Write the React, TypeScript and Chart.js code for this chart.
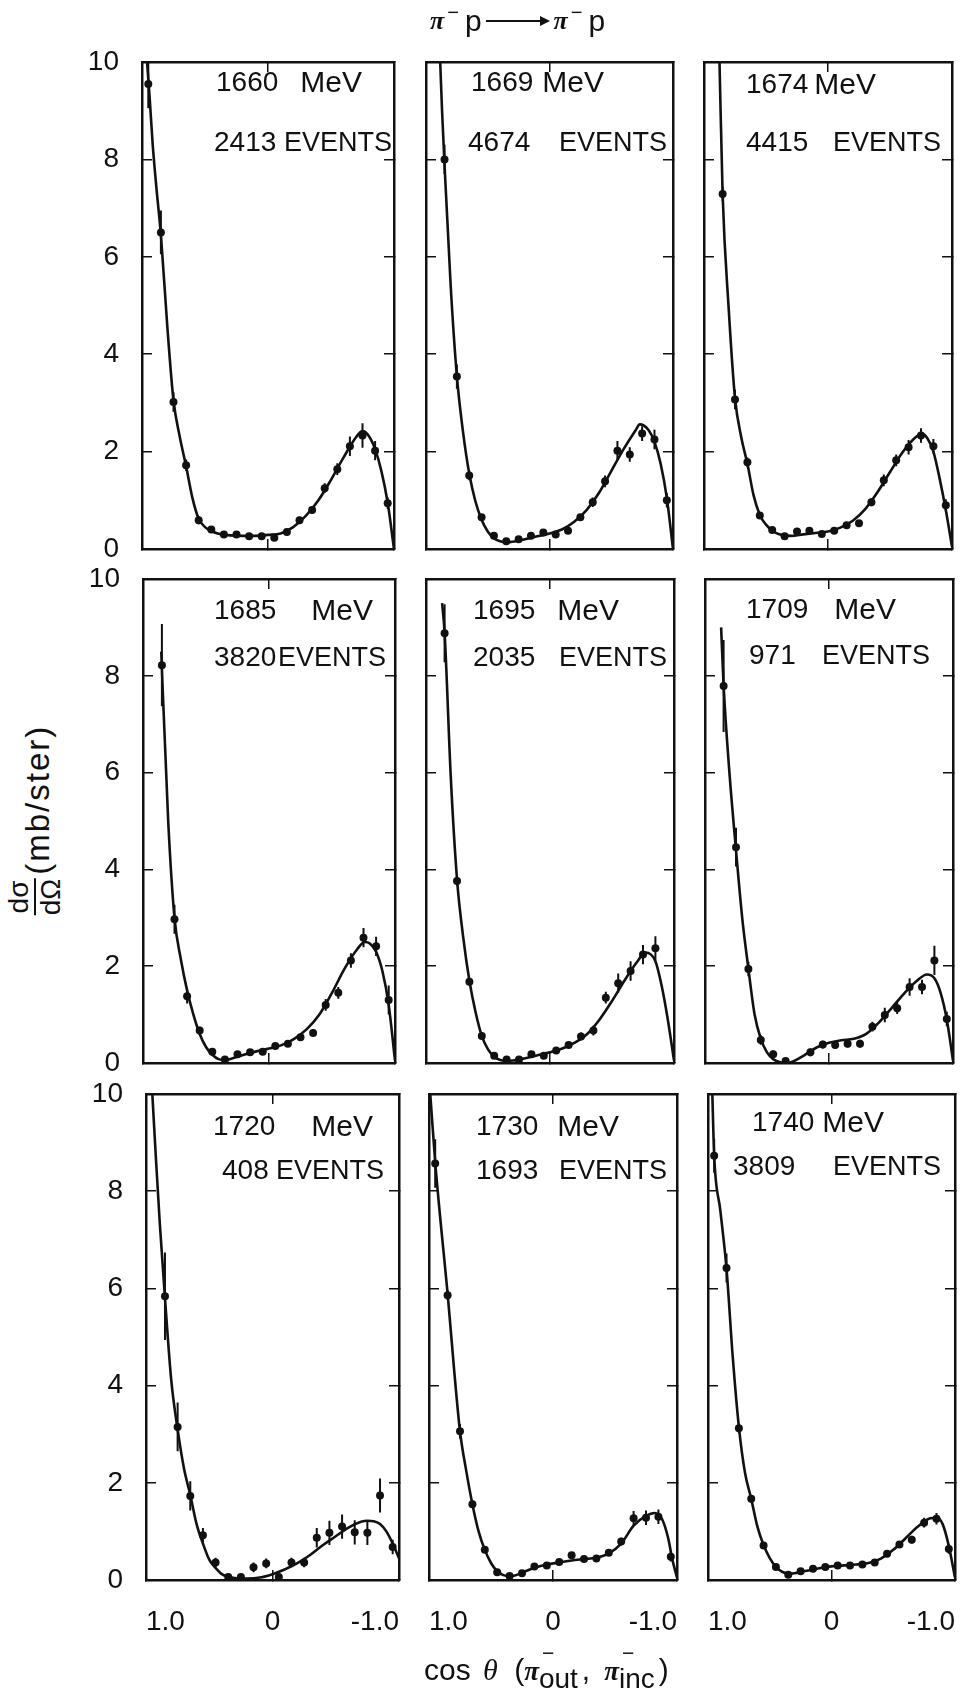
import React, { useEffect, useRef } from "react";
import { Chart, registerables } from "chart.js";

Chart.register(...registerables);

// ---------------- data ----------------
const COS_BINS = [0.95, 0.85, 0.75, 0.65, 0.55, 0.45, 0.35, 0.25, 0.15, 0.05, -0.05, -0.15, -0.25, -0.35, -0.45, -0.55, -0.65, -0.75, -0.85, -0.95];

const X_TICK_VALUES = [-1, 0, 1];
const X_TICK_LABELS = ["-1.0", "0", "1.0"];
const Y_TICK_VALUES = [0, 2, 4, 6, 8, 10];
const Y_TICK_LABELS = ["0", "2", "4", "6", "8", "10"];

const ENERGY_VALUES = ["1660", "1669", "1674", "1685", "1695", "1709", "1720", "1730", "1740"];
const ENERGY_UNIT = "MeV";
const EVENT_COUNTS = ["2413", "4674", "4415", "3820", "2035", "971", "408", "1693", "3809"];
const EVENT_WORD = "EVENTS";

// 1660 MeV
const Y_1660 = [9.55, 6.5, 3.02, 1.72, 0.59, 0.4, 0.3, 0.3, 0.26, 0.26, 0.23, 0.35, 0.59, 0.8, 1.25, 1.64, 2.11, 2.33, 2.02, 0.94];
const ERR_1660 = [0.5, 0.45, 0.2, 0.12, 0.08, 0.06, 0.05, 0.05, 0.05, 0.05, 0.05, 0.06, 0.07, 0.08, 0.1, 0.12, 0.2, 0.25, 0.2, 0.12];
const FIT_X_1660 = [0.96, 0.94, 0.915, 0.885, 0.85, 0.8, 0.75, 0.7, 0.65, 0.6, 0.55, 0.5, 0.45, 0.4, 0.3, 0.2, 0.1, 0.0, -0.1, -0.2, -0.3, -0.4, -0.5, -0.6, -0.7, -0.75, -0.8, -0.85, -0.9, -0.95, -1.0];
const FIT_Y_1660 = [10, 9.3, 8.3, 7.4, 6.45, 4.6, 3.05, 2.3, 1.7, 1.05, 0.62, 0.45, 0.37, 0.32, 0.28, 0.27, 0.27, 0.29, 0.32, 0.45, 0.68, 1.0, 1.42, 1.88, 2.3, 2.42, 2.32, 2.05, 1.6, 0.95, 0.0];

// 1669 MeV
const Y_1669 = [null, 8.0, 3.54, 1.51, 0.65, 0.27, 0.16, 0.2, 0.27, 0.34, 0.3, 0.375, 0.65, 0.96, 1.39, 2.02, 1.94, 2.37, 2.25, 1.0];
const ERR_1669 = [0, 0.3, 0.25, 0.1, 0.07, 0.05, 0.05, 0.05, 0.05, 0.05, 0.06, 0.06, 0.07, 0.1, 0.12, 0.2, 0.15, 0.15, 0.2, 0.15];
const FIT_X_1669 = [0.885, 0.87, 0.85, 0.8, 0.75, 0.7, 0.65, 0.6, 0.55, 0.5, 0.45, 0.4, 0.35, 0.3, 0.2, 0.1, 0.0, -0.1, -0.2, -0.3, -0.4, -0.5, -0.6, -0.7, -0.73, -0.8, -0.85, -0.9, -0.95, -1.0];
const FIT_Y_1669 = [10, 9.0, 7.9, 5.4, 3.55, 2.4, 1.55, 0.98, 0.6, 0.36, 0.22, 0.16, 0.14, 0.15, 0.2, 0.26, 0.32, 0.4, 0.56, 0.8, 1.15, 1.6, 2.05, 2.45, 2.56, 2.45, 2.2, 1.75, 1.05, 0.0];

// 1674 MeV
const Y_1674 = [null, 7.29, 3.07, 1.78, 0.69, 0.39, 0.26, 0.36, 0.375, 0.31, 0.375, 0.49, 0.53, 0.96, 1.41, 1.82, 2.09, 2.33, 2.11, 0.9];
const ERR_1674 = [0, 0.15, 0.2, 0.1, 0.07, 0.05, 0.05, 0.05, 0.05, 0.05, 0.05, 0.06, 0.06, 0.08, 0.12, 0.12, 0.15, 0.15, 0.15, 0.12];
const FIT_X_1674 = [0.875, 0.85, 0.8, 0.75, 0.7, 0.65, 0.6, 0.55, 0.5, 0.45, 0.4, 0.3, 0.2, 0.1, 0.0, -0.1, -0.2, -0.3, -0.4, -0.5, -0.6, -0.7, -0.76, -0.8, -0.85, -0.9, -0.95, -1.0];
const FIT_Y_1674 = [10, 7.3, 4.9, 3.1, 2.3, 1.75, 1.1, 0.7, 0.5, 0.38, 0.31, 0.27, 0.3, 0.33, 0.36, 0.44, 0.58, 0.82, 1.17, 1.58, 1.98, 2.28, 2.36, 2.28, 2.0, 1.45, 0.8, 0.05];

// 1685 MeV
const Y_1685 = [null, 8.22, 2.97, 1.38, 0.67, 0.23, 0.07, 0.18, 0.22, 0.23, 0.35, 0.4, 0.53, 0.62, 1.2, 1.45, 2.12, 2.59, 2.41, 1.3];
const ERR_1685 = [0, 0.85, 0.3, 0.15, 0.08, 0.06, 0.05, 0.05, 0.05, 0.05, 0.06, 0.06, 0.07, 0.08, 0.12, 0.12, 0.15, 0.2, 0.2, 0.3];
const FIT_X_1685 = [0.855, 0.85, 0.8, 0.75, 0.7, 0.65, 0.6, 0.55, 0.5, 0.45, 0.4, 0.35, 0.3, 0.2, 0.1, 0.0, -0.1, -0.2, -0.3, -0.4, -0.5, -0.6, -0.7, -0.76, -0.8, -0.85, -0.9, -0.95, -1.0];
const FIT_Y_1685 = [8.5, 8.15, 5.0, 3.0, 2.15, 1.5, 1.0, 0.6, 0.33, 0.17, 0.08, 0.06, 0.09, 0.17, 0.24, 0.3, 0.37, 0.5, 0.7, 1.0, 1.45, 1.95, 2.35, 2.5, 2.47, 2.3, 1.9, 1.2, 0.05];

// 1695 MeV
const Y_1695 = [null, 8.88, 3.76, 1.68, 0.56, 0.15, 0.07, 0.07, 0.18, 0.15, 0.26, 0.37, 0.55, 0.67, 1.35, 1.65, 1.9, 2.24, 2.37, null];
const ERR_1695 = [0, 0.6, 0.1, 0.08, 0.07, 0.05, 0.05, 0.05, 0.05, 0.06, 0.06, 0.06, 0.08, 0.1, 0.12, 0.2, 0.2, 0.2, 0.25, 0];
const FIT_X_1695 = [0.87, 0.85, 0.8, 0.75, 0.7, 0.65, 0.6, 0.55, 0.5, 0.45, 0.4, 0.35, 0.3, 0.2, 0.1, 0.0, -0.1, -0.2, -0.3, -0.4, -0.5, -0.6, -0.7, -0.77, -0.85, -0.9, -0.95, -1.0];
const FIT_Y_1695 = [9.5, 8.9, 5.9, 3.8, 2.6, 1.7, 1.05, 0.56, 0.28, 0.13, 0.06, 0.04, 0.05, 0.1, 0.16, 0.22, 0.3, 0.42, 0.6, 0.9, 1.28, 1.7, 2.08, 2.28, 2.1, 1.6, 0.9, 0.05];

// 1709 MeV
const Y_1709 = [null, 7.79, 4.46, 1.94, 0.475, 0.18, 0.04, null, 0.22, 0.38, 0.37, 0.4, 0.4, 0.75, 0.99, 1.13, 1.57, 1.57, 2.12, 0.91];
const ERR_1709 = [0, 0.95, 0.4, 0.15, 0.1, 0.08, 0.05, 0, 0.08, 0.08, 0.08, 0.08, 0.08, 0.1, 0.15, 0.12, 0.18, 0.15, 0.3, 0.15];
const FIT_X_1709 = [0.87, 0.85, 0.8, 0.75, 0.7, 0.65, 0.6, 0.55, 0.5, 0.45, 0.4, 0.35, 0.3, 0.2, 0.1, 0.0, -0.1, -0.2, -0.3, -0.4, -0.5, -0.6, -0.7, -0.79, -0.85, -0.9, -0.95, -1.0];
const FIT_Y_1709 = [9.0, 7.8, 5.9, 4.4, 3.0, 1.95, 1.0, 0.5, 0.22, 0.08, 0.02, 0.0, 0.02, 0.16, 0.32, 0.42, 0.47, 0.5, 0.6, 0.83, 1.12, 1.42, 1.68, 1.83, 1.75, 1.45, 0.9, 0.05];

// 1720 MeV
const Y_1720 = [null, 5.84, 3.15, 1.73, 0.92, 0.36, 0.06, 0.06, 0.26, 0.34, 0.06, 0.36, 0.36, 0.87, 0.97, 1.1, 0.98, 0.97, 1.74, 0.68];
const ERR_1720 = [0, 0.9, 0.5, 0.3, 0.15, 0.1, 0.05, 0.05, 0.1, 0.1, 0.05, 0.1, 0.1, 0.2, 0.25, 0.25, 0.25, 0.25, 0.35, 0.15];
const FIT_X_1720 = [0.95, 0.92, 0.89, 0.85, 0.8, 0.75, 0.7, 0.65, 0.6, 0.55, 0.5, 0.45, 0.4, 0.3, 0.2, 0.1, 0.0, -0.1, -0.2, -0.3, -0.4, -0.5, -0.6, -0.7, -0.75, -0.8, -0.85, -0.9, -0.95, -1.0];
const FIT_Y_1720 = [10, 8.6, 7.3, 5.8, 4.1, 3.1, 2.3, 1.75, 1.15, 0.75, 0.42, 0.25, 0.12, 0.04, 0.03, 0.05, 0.12, 0.22, 0.35, 0.52, 0.72, 0.9, 1.08, 1.2, 1.22, 1.21, 1.15, 1.0, 0.75, 0.45];

// 1730 MeV
const Y_1730 = [8.57, 5.86, 3.06, 1.56, 0.62, 0.16, 0.08, 0.14, 0.28, 0.3, 0.37, 0.51, 0.43, 0.44, 0.56, 0.79, 1.27, 1.28, 1.3, 0.48];
const ERR_1730 = [0.5, 0.1, 0.15, 0.08, 0.06, 0.05, 0.05, 0.05, 0.05, 0.05, 0.05, 0.06, 0.05, 0.05, 0.06, 0.08, 0.15, 0.15, 0.15, 0.1];
const FIT_X_1730 = [0.99, 0.95, 0.9, 0.85, 0.8, 0.75, 0.7, 0.65, 0.6, 0.55, 0.5, 0.45, 0.4, 0.35, 0.3, 0.25, 0.15, 0.05, -0.05, -0.15, -0.25, -0.35, -0.45, -0.55, -0.65, -0.75, -0.82, -0.88, -0.93, -0.96, -1.0];
const FIT_Y_1730 = [10, 8.6, 7.2, 5.9, 4.4, 3.06, 2.25, 1.56, 1.0, 0.62, 0.35, 0.18, 0.1, 0.08, 0.1, 0.15, 0.25, 0.32, 0.36, 0.4, 0.43, 0.46, 0.55, 0.75, 1.12, 1.32, 1.38, 1.25, 0.85, 0.45, 0.05];

// 1740 MeV
const Y_1740 = [8.73, 6.42, 3.12, 1.67, 0.71, 0.27, 0.11, 0.18, 0.23, 0.27, 0.3, 0.3, 0.32, 0.36, 0.54, 0.73, 0.83, 1.18, 1.26, 0.64];
const ERR_1740 = [0.35, 0.3, 0.1, 0.08, 0.06, 0.05, 0.04, 0.04, 0.04, 0.04, 0.04, 0.04, 0.04, 0.05, 0.06, 0.07, 0.08, 0.1, 0.12, 0.1];
const FIT_X_1740 = [0.965, 0.95, 0.9, 0.85, 0.8, 0.75, 0.7, 0.65, 0.6, 0.55, 0.5, 0.45, 0.4, 0.35, 0.3, 0.2, 0.1, 0.0, -0.1, -0.2, -0.3, -0.4, -0.5, -0.6, -0.7, -0.8, -0.85, -0.9, -0.95, -1.0];
const FIT_Y_1740 = [10, 8.73, 7.6, 6.4, 4.6, 3.15, 2.2, 1.67, 1.1, 0.72, 0.45, 0.27, 0.17, 0.13, 0.14, 0.19, 0.24, 0.28, 0.3, 0.32, 0.35, 0.44, 0.62, 0.86, 1.1, 1.27, 1.28, 1.15, 0.7, 0.05];

const SERIES = [
  { y: Y_1660, err: ERR_1660, fitX: FIT_X_1660, fitY: FIT_Y_1660 },
  { y: Y_1669, err: ERR_1669, fitX: FIT_X_1669, fitY: FIT_Y_1669 },
  { y: Y_1674, err: ERR_1674, fitX: FIT_X_1674, fitY: FIT_Y_1674 },
  { y: Y_1685, err: ERR_1685, fitX: FIT_X_1685, fitY: FIT_Y_1685 },
  { y: Y_1695, err: ERR_1695, fitX: FIT_X_1695, fitY: FIT_Y_1695 },
  { y: Y_1709, err: ERR_1709, fitX: FIT_X_1709, fitY: FIT_Y_1709 },
  { y: Y_1720, err: ERR_1720, fitX: FIT_X_1720, fitY: FIT_Y_1720 },
  { y: Y_1730, err: ERR_1730, fitX: FIT_X_1730, fitY: FIT_Y_1730 },
  { y: Y_1740, err: ERR_1740, fitX: FIT_X_1740, fitY: FIT_Y_1740 },
];

// ---------------- layout / style ----------------
const INK = "#111";
const SANS = "'Liberation Sans', Arial, sans-serif";
const SERIF = "'Liberation Serif', 'DejaVu Serif', serif";

// [left, top, right, bottom] of each plot frame, in page pixels
const PANEL_BOXES = [
  [142, 62, 394, 549], [426, 62, 673, 549], [704, 62, 952, 549],
  [143, 579, 395, 1063], [426, 579, 674, 1063], [705, 579, 953, 1063],
  [146, 1094, 399, 1580], [429, 1094, 677, 1580], [708, 1094, 955, 1580],
];
// [number x, line centre y, word right edge x] for the energy line and the events line
const ENERGY_POS = [
  [216, 82, 362], [471, 82, 604], [746, 84, 876],
  [214, 610, 373], [473, 610, 619], [746, 609, 896],
  [213, 1126, 373], [476, 1126, 619], [752, 1122, 884],
];
const EVENTS_POS = [
  [214, 142, 392], [468, 142, 667], [746, 142, 941],
  [214, 657, 386], [473, 657, 667], [749, 655, 930],
  [222, 1170, 384], [476, 1170, 667], [733, 1166, 941],
];
const PAD = { left: 72, right: 14, top: 26, bottom: 64 };
const AXIS_W = 66;
const AXIS_H = 60;

function Panel({ index }: { index: number }) {
  const ref = useRef<HTMLCanvasElement | null>(null);
  const [l, t, r, b] = PANEL_BOXES[index];
  const width = r - l + PAD.left + PAD.right;
  const height = b - t + PAD.top + PAD.bottom;

  useEffect(() => {
    const canvas = ref.current;
    if (!canvas) return;
    const s = SERIES[index];
    const showY = index % 3 === 0;
    const showX = index >= 6;

    const points: any[] = [];
    const bars: any[] = [];
    COS_BINS.forEach((c, k) => {
      const v = s.y[k];
      if (v === null || v === undefined) return;
      points.push({ x: c, y: v });
      const e = s.err[k];
      if (e > 0) {
        bars.push({ x: c, y: Math.max(0, v - e) }, { x: c, y: v + e }, { x: c, y: null });
      }
    });
    const fit = s.fitX.map((x, k) => ({ x, y: s.fitY[k] }));

    const sizeFit = (size: number) => (sc: any) => {
      if (sc.isHorizontal()) sc.height = size;
      else sc.width = size;
      sc.paddingLeft = 0;
      sc.paddingRight = 0;
      sc.paddingTop = 0;
      sc.paddingBottom = 0;
    };
    const grid = { drawOnChartArea: false, drawTicks: true, tickLength: -10, color: INK, lineWidth: 1.5 };
    const border = { display: true, color: INK, width: 2.5 };
    const tickFont = { family: SANS, size: 28 };

    const xAxis = (position: string, display: boolean, size: number) => ({
      type: "linear",
      position,
      min: -1,
      max: 1,
      reverse: true,
      afterFit: sizeFit(size),
      afterBuildTicks: (sc: any) => {
        sc.ticks = X_TICK_VALUES.map((v) => ({ value: v }));
      },
      ticks: {
        display,
        autoSkip: false,
        maxRotation: 0,
        minRotation: 0,
        align: "inner",
        padding: 35,
        color: INK,
        font: tickFont,
        callback: (v: any) => X_TICK_LABELS[X_TICK_VALUES.indexOf(Number(v))],
      },
      grid,
      border,
    });
    const yAxis = (position: string, display: boolean, size: number) => ({
      type: "linear",
      position,
      min: 0,
      max: 10,
      afterFit: sizeFit(size),
      afterBuildTicks: (sc: any) => {
        sc.ticks = Y_TICK_VALUES.map((v) => ({ value: v }));
      },
      ticks: {
        display,
        autoSkip: false,
        padding: 33,
        color: INK,
        font: tickFont,
        callback: (v: any) => Y_TICK_LABELS[Y_TICK_VALUES.indexOf(Number(v))],
      },
      grid,
      border,
    });

    const chart = new Chart(canvas, {
      type: "scatter",
      data: {
        datasets: [
          {
            data: fit,
            showLine: true,
            borderColor: INK,
            borderWidth: 2.6,
            pointRadius: 0,
            cubicInterpolationMode: "monotone",
          },
          {
            data: bars,
            showLine: true,
            spanGaps: false,
            borderColor: INK,
            borderWidth: 2,
            pointRadius: 0,
          },
          {
            data: points,
            showLine: false,
            pointRadius: 4,
            pointBackgroundColor: INK,
            pointBorderColor: INK,
            pointBorderWidth: 0,
          },
        ],
      },
      options: {
        responsive: false,
        animation: false,
        events: [],
        layout: {
          padding: { left: PAD.left - AXIS_W, right: PAD.right, top: PAD.top, bottom: PAD.bottom - AXIS_H },
        },
        plugins: { legend: { display: false }, tooltip: { enabled: false }, title: { display: false } },
        scales: {
          x: xAxis("bottom", showX, AXIS_H),
          xTop: xAxis("top", false, 0),
          y: yAxis("left", showY, AXIS_W),
          yRight: yAxis("right", false, 0),
        },
      },
    } as any);
    return () => chart.destroy();
  }, [index]);

  return (
    <canvas
      ref={ref}
      width={width}
      height={height}
      style={{ position: "absolute", left: l - PAD.left, top: t - PAD.top, width, height }}
    />
  );
}

const textBase: React.CSSProperties = {
  position: "absolute",
  transform: "translateY(-50%)",
  fontFamily: SANS,
  fontSize: 28,
  lineHeight: 1,
  whiteSpace: "nowrap",
  color: INK,
};

function Pi({ size }: { size?: number }) {
  return (
    <span style={{ fontFamily: SERIF, fontStyle: "italic", fontWeight: "bold", fontSize: size }}>π</span>
  );
}

function SupSub({ sub }: { sub: string }) {
  return (
    <span style={{ position: "relative", display: "inline-block" }}>
      <span style={{ position: "absolute", left: 3, top: -12, fontSize: 21 }}>−</span>
      <span style={{ position: "relative", top: 8, fontSize: 28 }}>{sub}</span>
    </span>
  );
}

function Arrow() {
  return (
    <span
      style={{
        display: "inline-block",
        width: 62,
        height: 0,
        borderTop: `2px solid ${INK}`,
        position: "relative",
        margin: "0 6px 0 4px",
      }}
    >
      <span
        style={{
          position: "absolute",
          right: -2,
          top: -6,
          width: 0,
          height: 0,
          borderLeft: `10px solid ${INK}`,
          borderTop: "5px solid transparent",
          borderBottom: "5px solid transparent",
        }}
      />
    </span>
  );
}

export default function App() {
  return (
    <div style={{ position: "absolute", left: 0, top: 0, width: 978, height: 1696, background: "#fff", overflow: "hidden" }}>
      {PANEL_BOXES.map((_, i) => (
        <Panel key={i} index={i} />
      ))}

      {ENERGY_POS.map(([x, y, xr], i) => (
        <React.Fragment key={"en" + i}>
          <div style={{ ...textBase, left: x, top: y, fontSize: 28 }}>{ENERGY_VALUES[i]}</div>
          <div style={{ ...textBase, right: 978 - xr, top: y, fontSize: 30 }}>{ENERGY_UNIT}</div>
        </React.Fragment>
      ))}
      {EVENTS_POS.map(([x, y, xr], i) => (
        <React.Fragment key={"ev" + i}>
          <div style={{ ...textBase, left: x, top: y, fontSize: 28 }}>{EVENT_COUNTS[i]}</div>
          <div style={{ ...textBase, right: 978 - xr, top: y, fontSize: 27 }}>{EVENT_WORD}</div>
        </React.Fragment>
      ))}

      {/* reaction title */}
      <div style={{ ...textBase, left: 430, top: 21, fontSize: 30, display: "flex", alignItems: "center" }}>
        <Pi size={26} />
        <span style={{ fontSize: 20, position: "relative", top: -9, margin: "0 6px 0 3px" }}>−</span>
        <span>p</span>
        <Arrow />
        <Pi size={26} />
        <span style={{ fontSize: 20, position: "relative", top: -9, margin: "0 6px 0 3px" }}>−</span>
        <span>p</span>
      </div>

      {/* x axis title */}
      <div style={{ ...textBase, left: 424, top: 1670, fontSize: 30, lineHeight: 1.2 }}>
        cos <span style={{ fontFamily: SERIF, fontStyle: "italic", marginLeft: 4 }}>θ</span>{" "}
        <span style={{ marginLeft: 8 }}>(</span>
        <Pi size={27} />
        <SupSub sub="out" />
        <span style={{ margin: "0 14px 0 4px" }}>,</span>
        <Pi size={27} />
        <SupSub sub="inc" />
        <span style={{ marginLeft: 4 }}>)</span>
      </div>

      {/* y axis title */}
      <div
        style={{
          position: "absolute",
          left: 35,
          top: 820,
          transform: "translate(-50%, -50%) rotate(-90deg)",
          display: "flex",
          alignItems: "center",
          whiteSpace: "nowrap",
          fontFamily: SANS,
          color: INK,
        }}
      >
        <span style={{ display: "inline-flex", flexDirection: "column", alignItems: "center", fontSize: 28, lineHeight: 1.0 }}>
          <span>dσ</span>
          <span style={{ borderTop: `2px solid ${INK}`, width: "100%", margin: "1px 0" }} />
          <span>dΩ</span>
        </span>
        <span style={{ fontSize: 33, letterSpacing: 2, marginLeft: 4, position: "relative", top: 3 }}>(mb/ster)</span>
      </div>
    </div>
  );
}
